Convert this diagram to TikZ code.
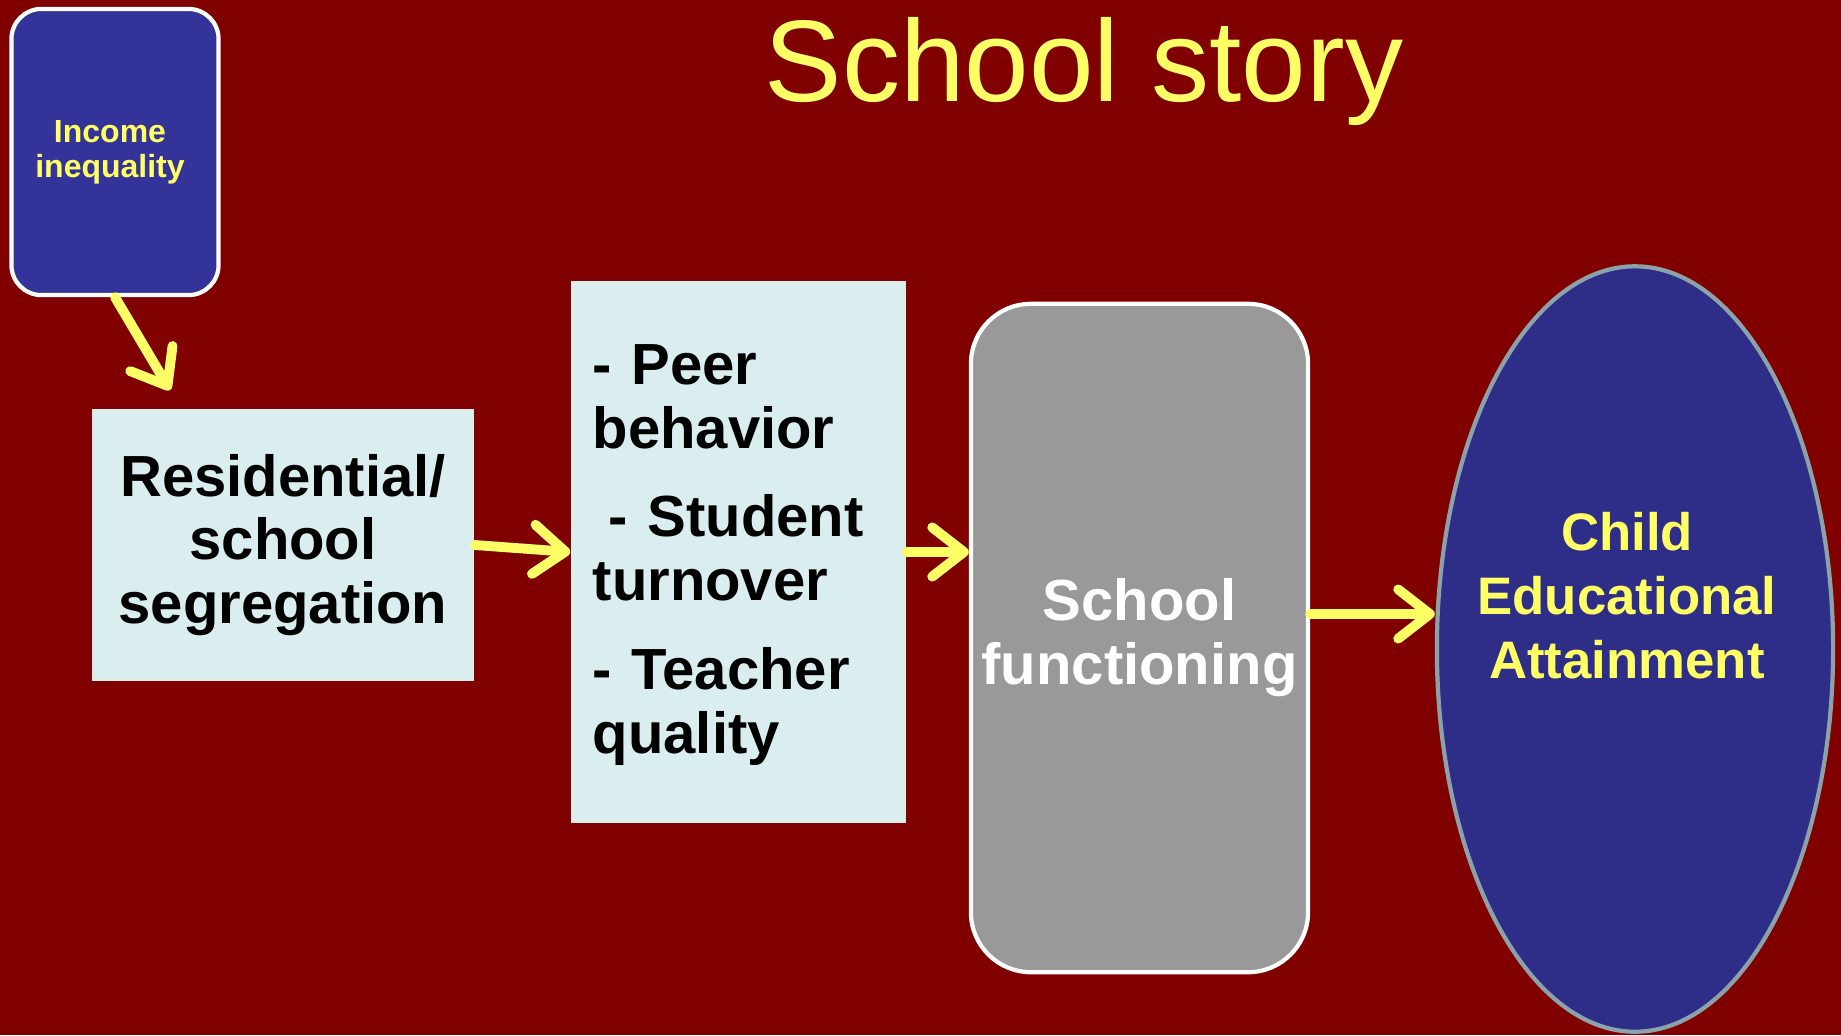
\documentclass[tikz,border=0pt]{standalone}
\usepackage{fontspec}
\setmainfont{Liberation Sans}
\usetikzlibrary{arrows.meta,shapes.geometric,calc}

\definecolor{bgred}{HTML}{800000}
\definecolor{hiyellow}{HTML}{FFFF66}
\definecolor{paleblue}{HTML}{DAEDEF}
\definecolor{deepblue}{HTML}{333399}
\definecolor{ovalblue}{HTML}{2E2E88}
\definecolor{ovalrim}{HTML}{8BA2AA}
\definecolor{midgray}{HTML}{999999}

\tikzset{
  flow/.style={draw=hiyellow, line width=2.8pt, line cap=round,
    -{Straight Barb[length=9pt,width=14pt,round]}},
  factorbox/.style={fill=paleblue, inner sep=0pt, font=\bfseries\fontsize{16.5}{18}\selectfont},
  whiterounded/.style={draw=white, line width=1.2pt, inner sep=0pt},
}

\begin{document}
\begin{tikzpicture}[x=0.01cm, y=-0.01cm]
  \fill[bgred] (0,0) rectangle (1841,1035);
  \useasboundingbox (0,0) rectangle (1841,1035);

  % title
  \node[anchor=base, text=hiyellow, font=\fontsize{33}{38}\selectfont, inner sep=0pt]
    (title) at (1084,101) {School story};

  % income inequality box
  \node[whiterounded, fill=deepblue, rounded corners=0.3cm,
        minimum width=2.07cm, minimum height=2.86cm]
    (inc) at (115,152) {};
  \node[text=hiyellow, align=center, inner sep=0pt,
        font=\bfseries\fontsize{9.1}{9.9}\selectfont]
    (incT) at (110,152) {Income\\inequality};

  % segregation box
  \node[factorbox, minimum width=3.82cm, minimum height=2.71cm, align=center]
    (res) at (283,545) {Residential/\\school\\segregation};

  % mechanisms box
  \node[factorbox, minimum width=3.35cm, minimum height=5.42cm]
    (mid) at (738.5,552) {};
  \node[font=\bfseries\fontsize{16.5}{18.2}\selectfont, text width=2.93cm,
        align=left, inner sep=0pt, anchor=west]
    (midT) at (592,555)
    {- Peer\\behavior\\[7pt]\hspace*{0.28em}- Student\\turnover\\[7pt]- Teacher\\quality};

  % school functioning box
  \node[whiterounded, fill=midgray, rounded corners=0.6cm,
        minimum width=3.37cm, minimum height=6.68cm,
        text=white, align=center, font=\bfseries\fontsize{16.5}{18.2}\selectfont]
    (sf) at (1139.5,638) {School\\functioning};

  % outcome ellipse
  \node[ellipse, draw=ovalrim, line width=1.2pt, fill=ovalblue,
        minimum width=3.96cm, minimum height=7.65cm, inner sep=0pt]
    (att) at (1635,649) {};
  \node[text=hiyellow, align=center, inner sep=0pt,
        font=\bfseries\fontsize{15}{18.2}\selectfont]
    (attT) at (1627,596) {Child\\Educational\\Attainment};

  % connectors
  \coordinate (incEnd) at (170,390);
  \coordinate (lvl) at (0,614);
  \draw[flow] (inc.south) -- (incEnd);
  \draw[flow] (res.east) -- (mid.west);
  \draw[flow] (mid.east) -- (mid.east -| sf.west);
  \draw[flow] (sf.east |- lvl) -- (att.west |- lvl);
\end{tikzpicture}
\end{document}
